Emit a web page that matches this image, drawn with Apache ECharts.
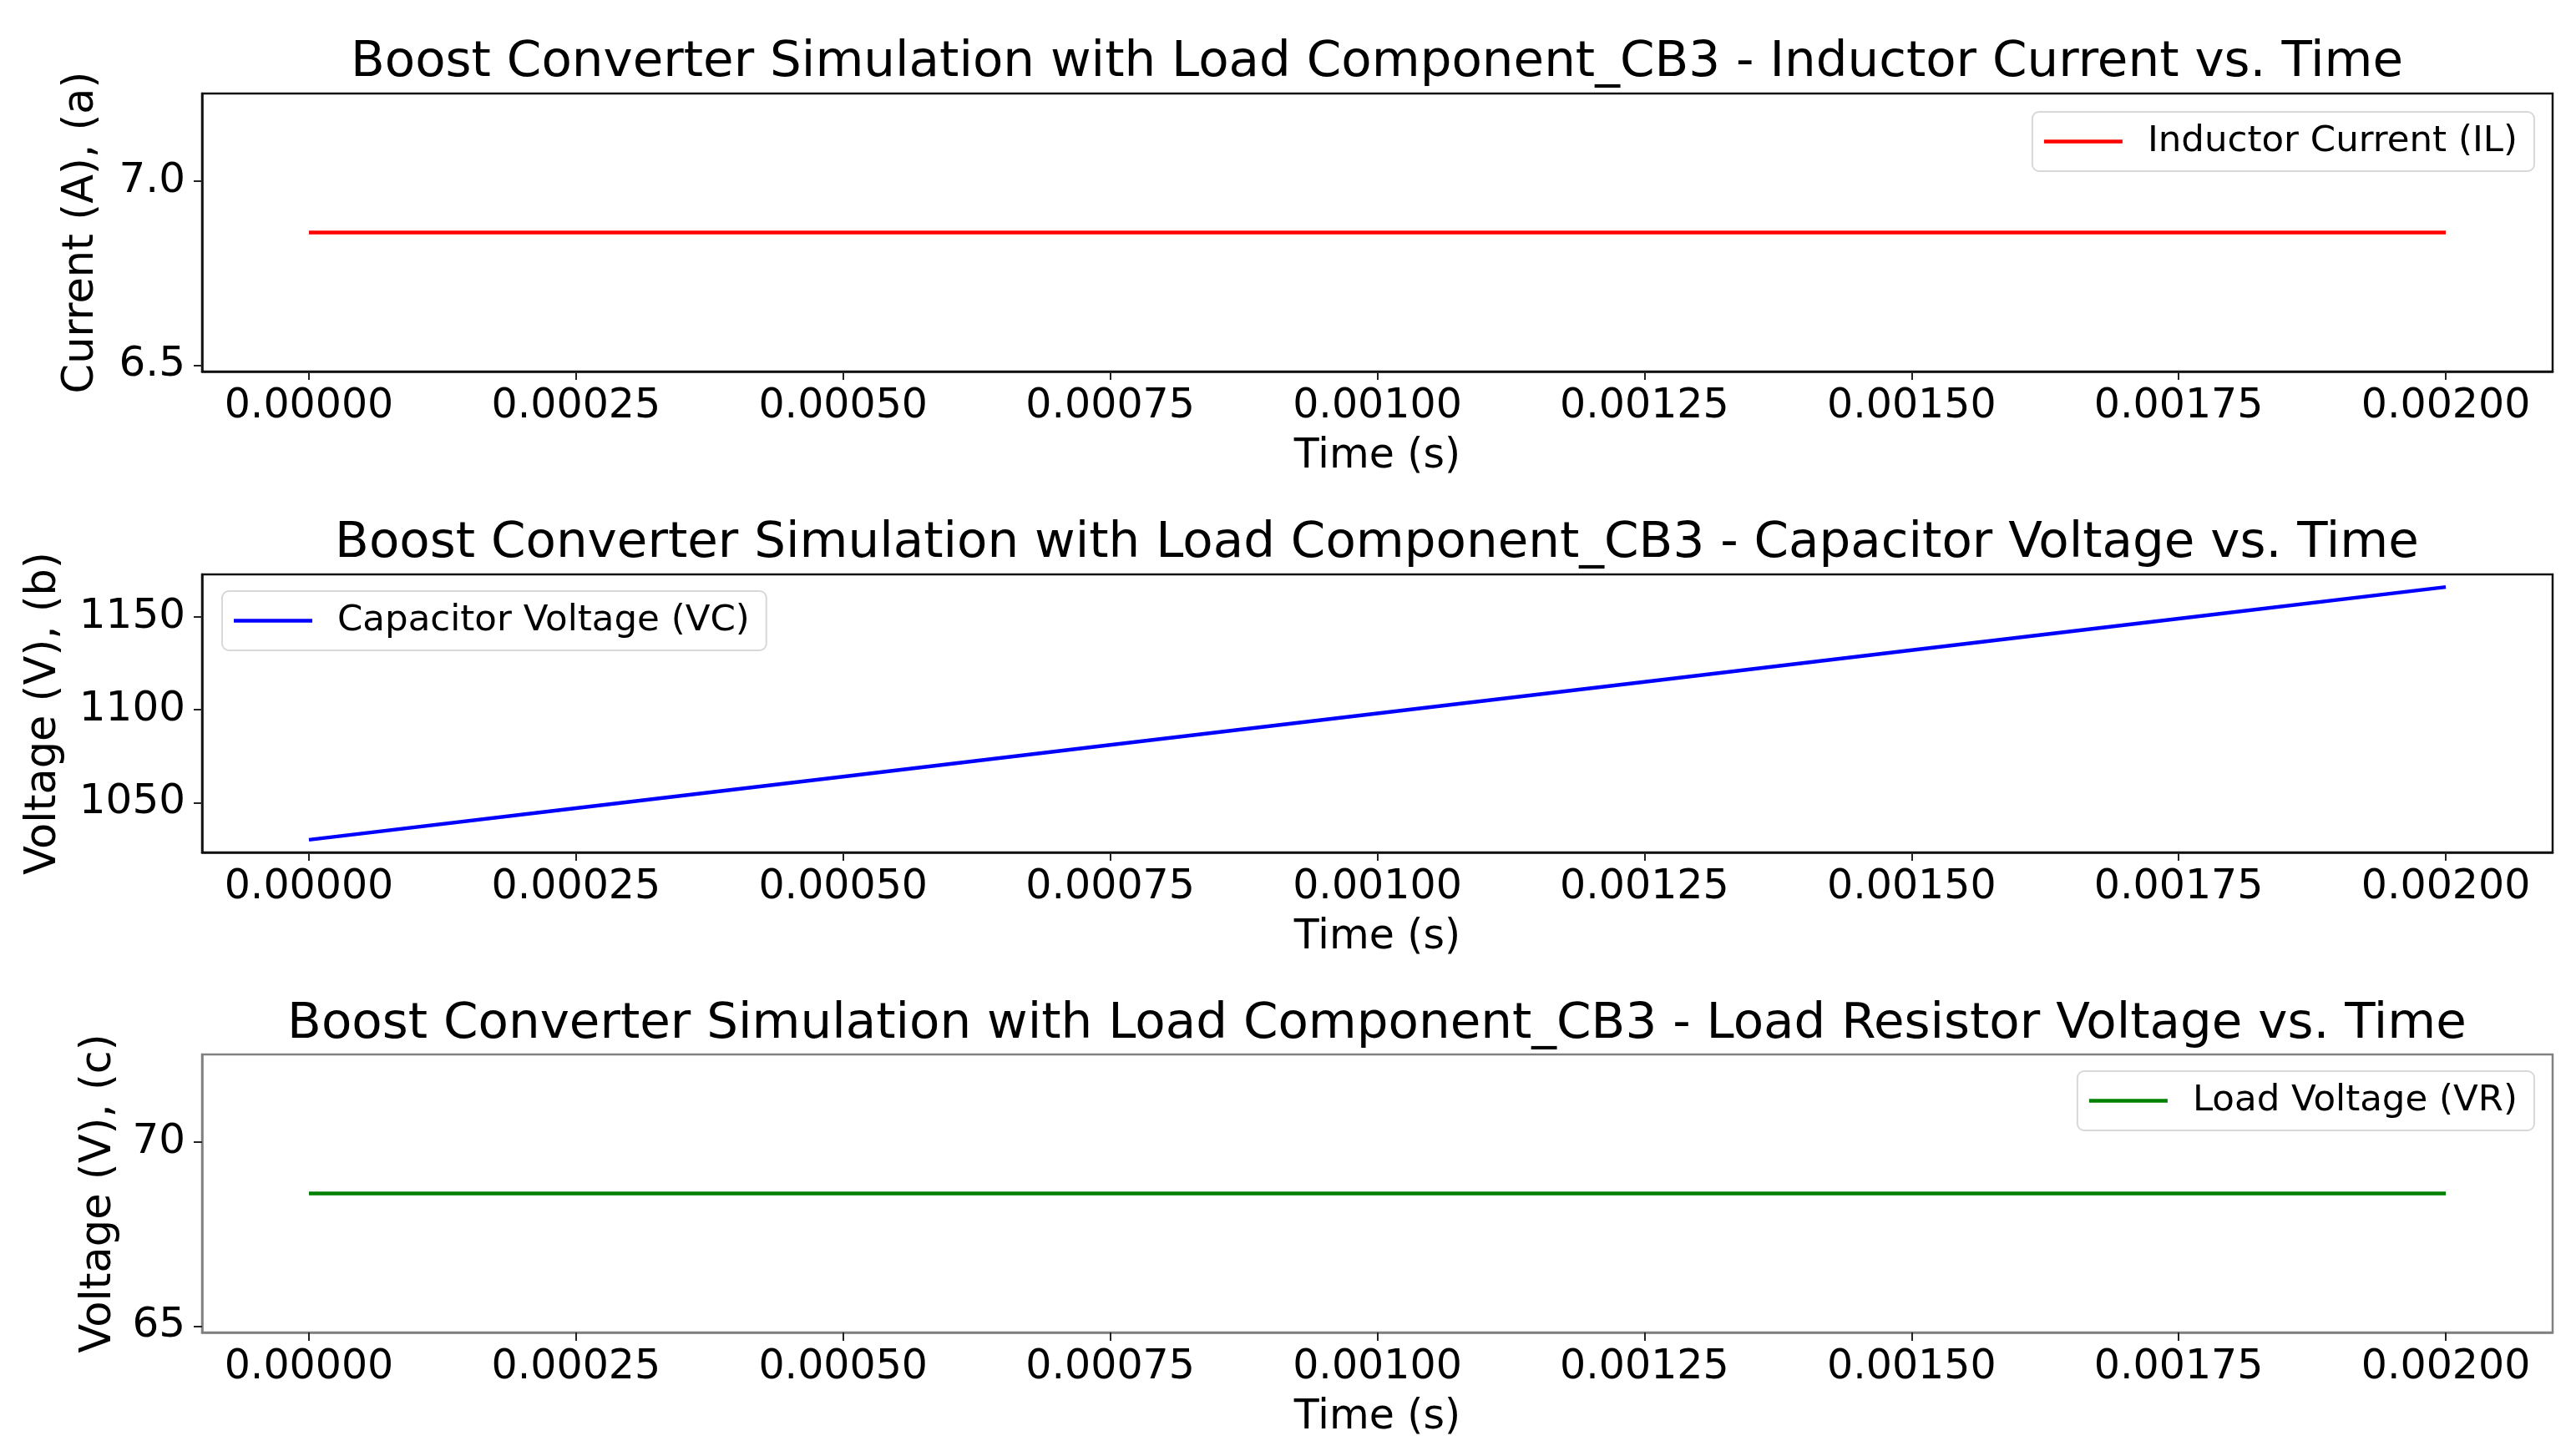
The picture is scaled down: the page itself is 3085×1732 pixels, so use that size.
<!DOCTYPE html>
<html>
<head>
<meta charset="utf-8">
<script src="https://cdn.jsdelivr.net/npm/echarts@6/dist/echarts.min.js"></script>
<style>
html,body{margin:0;padding:0;background:#fff;}
#c{width:3085px;height:1732px;}
</style>
</head>
<body>
<div id="c"></div>
<script>
// ---- data ----
const time = [0, 0.00025, 0.0005, 0.00075, 0.001, 0.00125, 0.0015, 0.00175, 0.002];
const inductorCurrent = [6.86, 6.86, 6.86, 6.86, 6.86, 6.86, 6.86, 6.86, 6.86];
const capacitorVoltage = [1030, 1047, 1064, 1081, 1098, 1115, 1132, 1149, 1166];
const loadVoltage = [68.6, 68.6, 68.6, 68.6, 68.6, 68.6, 68.6, 68.6, 68.6];
const xTicks = [0, 0.00025, 0.0005, 0.00075, 0.001, 0.00125, 0.0015, 0.00175, 0.002];
const yTicks1 = [6.5, 7.0];
const yTicks2 = [1050, 1100, 1150];
const yTicks3 = [65, 70];
const titles = [
  'Boost Converter Simulation with Load Component_CB3 - Inductor Current vs. Time',
  'Boost Converter Simulation with Load Component_CB3 - Capacitor Voltage vs. Time',
  'Boost Converter Simulation with Load Component_CB3 - Load Resistor Voltage vs. Time'
];
const yNames = ['Current (A), (a)', 'Voltage (V), (b)', 'Voltage (V), (c)'];
const seriesNames = ['Inductor Current (IL)', 'Capacitor Voltage (VC)', 'Load Voltage (VR)'];

const FONT = 'DejaVu Sans';
const pair = (xs, ys) => xs.map((x, i) => [x, ys[i]]);

const gridTops = [112, 688, 1263];
const gridH = 333;
const spineColors = ['#111', '#111', '#808080'];

const grids = gridTops.map((t, i) => ({
  left: 242, right: 28, top: t, height: gridH,
  show: true, borderColor: spineColors[i], borderWidth: 2.5, backgroundColor: 'transparent'
}));

const xAxes = [0, 1, 2].map(i => ({
  type: 'value', gridIndex: i, min: -0.0001, max: 0.0021,
  name: 'Time (s)', nameLocation: 'middle', nameGap: 78,
  nameTextStyle: { fontFamily: FONT, fontSize: 49, color: '#000' },
  axisLine: { show: true, onZero: false, lineStyle: { color: spineColors[i], width: 2.5 } },
  axisTick: { show: true, length: 10, lineStyle: { color: '#222', width: 2 }, customValues: xTicks },
  axisLabel: { fontFamily: FONT, fontSize: 49, color: '#000', margin: 18,
    customValues: xTicks, formatter: v => v.toFixed(5) },
  splitLine: { show: false }
}));

const yRanges = [[6.483, 7.237], [1023.2, 1172.8], [64.83, 72.37]];
const yTickSets = [yTicks1, yTicks2, yTicks3];
const yFmt = [v => v.toFixed(1), v => v.toFixed(0), v => v.toFixed(0)];
const yGaps = [119, 164, 98];
const yAxes = [0, 1, 2].map(i => ({
  type: 'value', gridIndex: i, min: yRanges[i][0], max: yRanges[i][1],
  name: yNames[i], nameLocation: 'middle', nameGap: yGaps[i],
  nameTextStyle: { fontFamily: FONT, fontSize: 51, color: '#000' },
  axisLine: { show: true, onZero: false, lineStyle: { color: spineColors[i], width: 2.5 } },
  axisTick: { show: true, length: 10, lineStyle: { color: '#222', width: 2 }, customValues: yTickSets[i] },
  axisLabel: { fontFamily: FONT, fontSize: 50, color: '#000', margin: 20,
    customValues: yTickSets[i], formatter: yFmt[i] },
  splitLine: { show: false }
}));

const colors = ['#ff0000', '#0000ff', '#008000'];
const values = [inductorCurrent, capacitorVoltage, loadVoltage];
const series = [0, 1, 2].map(i => ({
  name: seriesNames[i], type: 'line', xAxisIndex: i, yAxisIndex: i,
  data: pair(time, values[i]), showSymbol: false, symbol: 'none',
  lineStyle: { color: colors[i], width: 4.5 }, itemStyle: { color: colors[i] },
  animation: false
}));

const titleTops = [41, 617, 1193];
const title = [0, 1, 2].map(i => ({
  text: titles[i], left: 1644, top: titleTops[i], textAlign: 'center',
  textStyle: { fontFamily: FONT, fontSize: 59.5, fontWeight: 'normal', color: '#000' }
}));

const legendBase = {
  orient: 'vertical', icon: 'rect', itemWidth: 94, itemHeight: 4.5,
  backgroundColor: '#fff', borderColor: '#d8d8d8', borderWidth: 2, borderRadius: 8,
  padding: [10, 20, 10, 14],
  textStyle: { fontFamily: FONT, fontSize: 43.5, lineHeight: 51, color: '#000', padding: [0, 0, 0, 25] },
  selectedMode: false
};
const legend = [
  Object.assign({}, legendBase, { data: [seriesNames[0]], right: 50, top: 134 }),
  Object.assign({}, legendBase, { data: [seriesNames[1]], left: 266, top: 708 }),
  Object.assign({}, legendBase, { data: [seriesNames[2]], right: 50, top: 1283 })
];

const chart = echarts.init(document.getElementById('c'), null, { renderer: 'canvas' });
chart.setOption({
  backgroundColor: '#fff',
  animation: false,
  title, legend, grid: grids, xAxis: xAxes, yAxis: yAxes, series
});
</script>
</body>
</html>
